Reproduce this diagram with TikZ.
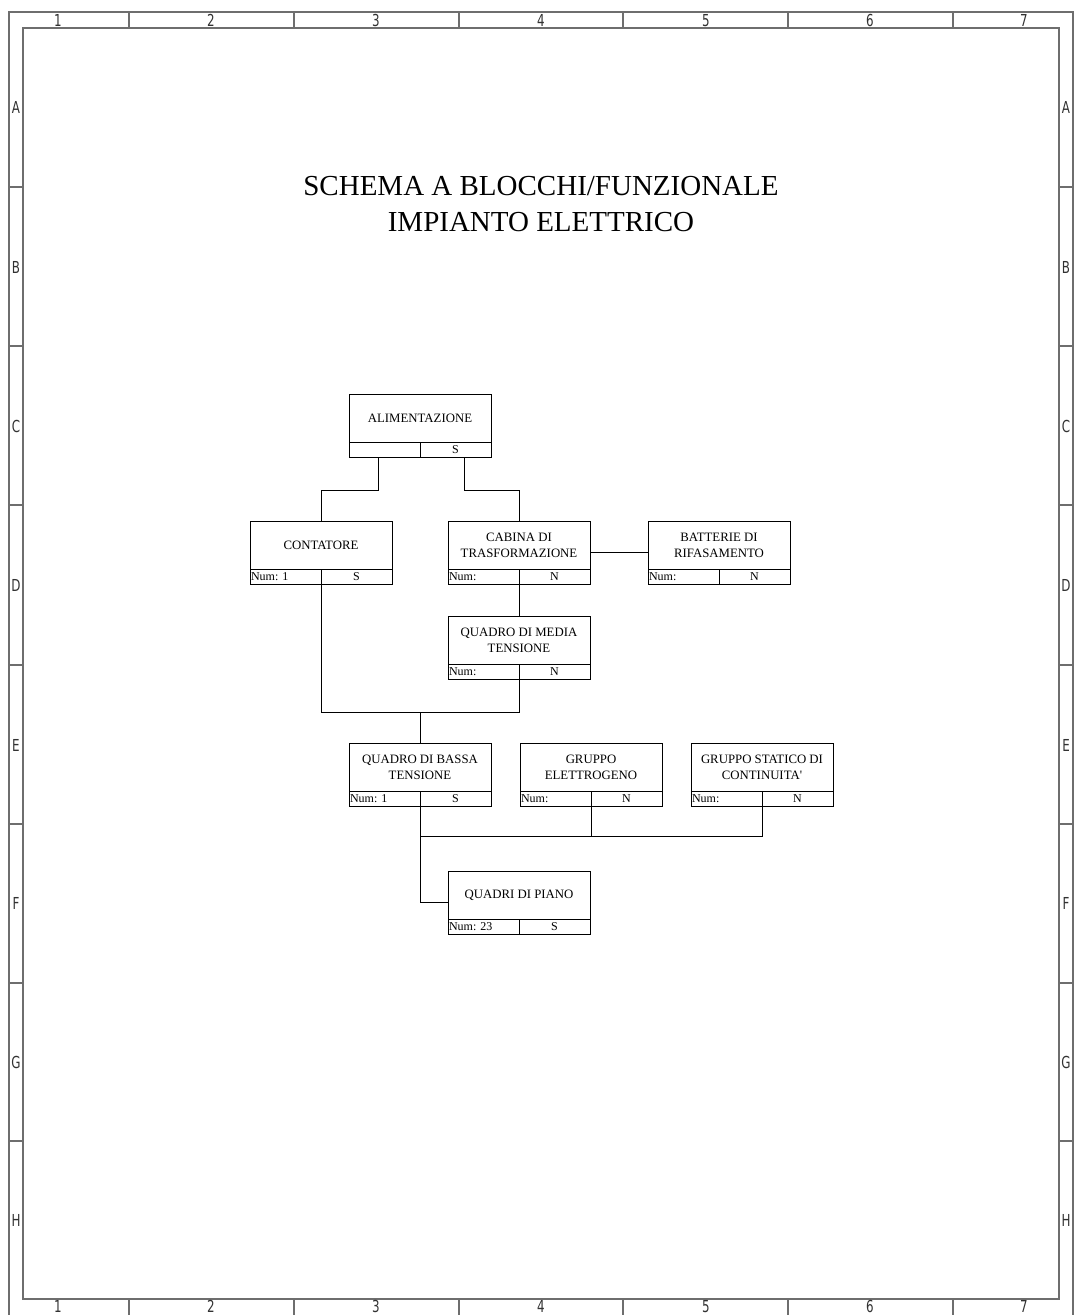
\documentclass[tikz,border=0pt]{standalone}
\usepackage{fontspec}
\setmainfont{Liberation Serif}
\newfontfamily\cornice[FakeStretch=0.72]{DejaVu Sans}
\usetikzlibrary{positioning}

\definecolor{telaio}{RGB}{110,110,110}
\definecolor{telaiotxt}{RGB}{50,50,50}

\begin{document}
\frenchspacing
\begin{tikzpicture}[x=1pt,y=-1pt,
    blocco/.style={draw,line width=1pt,outer sep=0pt,minimum width=142pt,minimum height=48pt,inner sep=1pt,align=center,font=\fontsize{12.8}{16}\selectfont},
    cella/.style={draw,line width=1pt,outer sep=0pt,minimum width=71pt,minimum height=15pt,inner sep=0pt,font=\fontsize{12}{12}\selectfont},
    numcella/.style={cella,text width=69pt,align=left},
    filo/.style={line width=1pt},
    cornicetxt/.style={text=telaiotxt,inner sep=0pt,font=\cornice\fontsize{16.5}{16.5}\selectfont}]
  \useasboundingbox (0,0) rectangle (1078,1315);

  % cornice del foglio
  \draw[telaio,line width=1.2pt] (9,1316) |- (1073,12) -- (1073,1316);
  \draw[telaio,line width=1.2pt] (23,28) rectangle (1059,1299);
  \foreach \x in {129,294,459,623,788,953} {
    \draw[telaio,line width=1.2pt] (\x,12) -- (\x,28);
    \draw[telaio,line width=1.2pt] (\x,1299) -- (\x,1316);
  }
  \foreach \y in {187,346,505,665,824,983,1141} {
    \draw[telaio,line width=1.2pt] (9,\y) -- (23,\y);
    \draw[telaio,line width=1.2pt] (1059,\y) -- (1073,\y);
  }
  \foreach \n/\x in {1/58,2/211,3/376,4/541,5/706,6/870,7/1024} {
    \node[cornicetxt,anchor=base] (col_top_\n) at (\x,26.5) {\n};
    \node[cornicetxt,anchor=base] (col_bot_\n) at (\x,1312) {\n};
  }
  \foreach \l/\y in {A/107,B/267,C/426,D/585,E/745,F/903,G/1062,H/1220} {
    \node[cornicetxt] (row_left_\l) at (16,\y) {\l};
    \node[cornicetxt] (row_right_\l) at (1066,\y) {\l};
  }

  % titolo
  \node[align=center,font=\fontsize{29}{36}\selectfont] (titolo) at (541,204) {SCHEMA A BLOCCHI/FUNZIONALE\\IMPIANTO ELETTRICO};

  % blocchi
  \node[blocco] (alim) at (420,418) {ALIMENTAZIONE};
    \node[numcella] (alim_num) [below right=0pt of alim.south west] {};
    \node[cella] (alim_flag) [right=0pt of alim_num] {S};

  \node[blocco] (contatore) at (321,545) {CONTATORE};
    \node[numcella] (contatore_num) [below right=0pt of contatore.south west] {Num: 1};
    \node[cella] (contatore_flag) [right=0pt of contatore_num] {S};

  \node[blocco] (cabina) at (519,545) {CABINA DI\\TRASFORMAZIONE};
    \node[numcella] (cabina_num) [below right=0pt of cabina.south west] {Num:};
    \node[cella] (cabina_flag) [right=0pt of cabina_num] {N};

  \node[blocco] (batterie) at (719,545) {BATTERIE DI\\RIFASAMENTO};
    \node[numcella] (batterie_num) [below right=0pt of batterie.south west] {Num:};
    \node[cella] (batterie_flag) [right=0pt of batterie_num] {N};

  \node[blocco] (media) at (519,640) {QUADRO DI MEDIA\\TENSIONE};
    \node[numcella] (media_num) [below right=0pt of media.south west] {Num:};
    \node[cella] (media_flag) [right=0pt of media_num] {N};

  \node[blocco] (bassa) at (420,767) {QUADRO DI BASSA\\TENSIONE};
    \node[numcella] (bassa_num) [below right=0pt of bassa.south west] {Num: 1};
    \node[cella] (bassa_flag) [right=0pt of bassa_num] {S};

  \node[blocco] (elettrogeno) at (591,767) {GRUPPO\\ELETTROGENO};
    \node[numcella] (elettrogeno_num) [below right=0pt of elettrogeno.south west] {Num:};
    \node[cella] (elettrogeno_flag) [right=0pt of elettrogeno_num] {N};

  \node[blocco] (statico) at (762,767) {GRUPPO STATICO DI\\CONTINUITA\textquotesingle};
    \node[numcella] (statico_num) [below right=0pt of statico.south west] {Num:};
    \node[cella] (statico_flag) [right=0pt of statico_num] {N};

  \node[blocco] (piano) at (519,895) {QUADRI DI PIANO};
    \node[numcella] (piano_num) [below right=0pt of piano.south west] {Num: 23};
    \node[cella] (piano_flag) [right=0pt of piano_num] {S};

  % collegamenti
  \coordinate (giunto) at ([yshift=31pt]bassa.north);
  \coordinate (sbarra) at ([yshift=-30pt]bassa_flag.south west);

  \draw[filo] ([xshift=29pt]alim_num.south west) -- ++(0,33) -| (contatore.north);
  \draw[filo] ([xshift=115pt]alim_num.south west) -- ++(0,33) -| (cabina.north);
  \draw[filo] ([yshift=-7.5pt]cabina.east) -- ([yshift=-7.5pt]batterie.west);
  \draw[filo] (cabina_flag.south west) -- (media.north);
  \draw[filo] (contatore_flag.south west) |- (giunto) -| (media_flag.south west);
  \draw[filo] (giunto) -- (bassa.north);
  \draw[filo] (statico_flag.south west) |- (sbarra);
  \draw[filo] (elettrogeno_flag.south west) -- (elettrogeno_flag.south west |- sbarra);
  \draw[filo] (bassa_flag.south west) |- ([yshift=-7.5pt]piano.west);
\end{tikzpicture}
\end{document}
